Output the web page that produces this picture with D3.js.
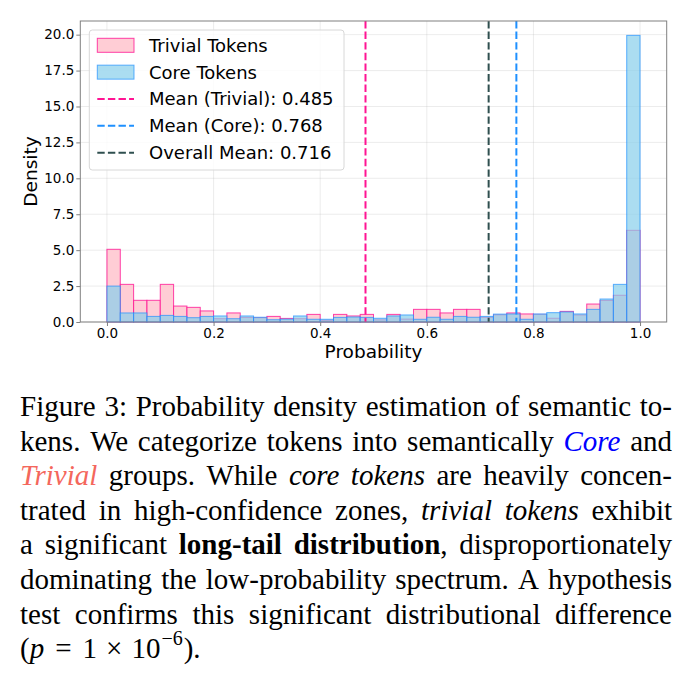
<!DOCTYPE html>
<html>
<head>
<meta charset="utf-8">
<script src="https://cdn.jsdelivr.net/npm/d3@7"></script>
<style>
  body { margin: 0; background: #fff; }
  svg { display: block; }
</style>
</head>
<body>
<svg width="693" height="697"></svg>
<script>
// densities per 0.025-wide bin (bins 0..39)
var trivialDensity = [5.06, 2.62, 1.51, 1.51, 2.62, 1.11, 1.02, 0.77, 0.23, 0.63,
                      0.32, 0.30, 0.39, 0.25, 0.23, 0.53, 0.12, 0.53, 0.42, 0.53,
                      0.15, 0.53, 0.20, 0.88, 0.88, 0.63, 0.88, 0.88, 0.32, 0.50,
                      0.63, 0.56, 0.53, 0.26, 0.74, 0.49, 1.25, 1.50, 1.86, 6.38],
    coreDensity = [2.50, 0.63, 0.63, 0.39, 0.46, 0.39, 0.30, 0.39, 0.42, 0.23,
                   0.42, 0.33, 0.16, 0.20, 0.42, 0.19, 0.19, 0.32, 0.35, 0.32,
                   0.26, 0.42, 0.49, 0.19, 0.33, 0.19, 0.39, 0.33, 0.39, 0.55,
                   0.56, 0.19, 0.56, 0.65, 0.70, 0.56, 0.88, 1.60, 2.62, 19.95];
var binWidth = 0.025;
var seriesNames = ["Trivial Tokens", "Core Tokens"];
var meanNames = ["Mean (Trivial)", "Mean (Core)", "Overall Mean"],
    meanValues = [0.485, 0.768, 0.716];
var xTicks = [0, 0.2, 0.4, 0.6, 0.8, 1.0],
    yTicks = [0, 2.5, 5, 7.5, 10, 12.5, 15, 17.5, 20];

// caption lines: [text, style]
var captionLines = [
  [["Figure 3: Probability density estimation of semantic to-", ""]],
  [["kens. We categorize tokens into semantically", ""], ["Core", "core"], ["and", ""]],
  [["Trivial", "trivial"], ["groups. While", ""], ["core tokens", "it"], ["are heavily concen-", ""]],
  [["trated in high-confidence zones,", ""], ["trivial tokens", "it"], ["exhibit", ""]],
  [["a significant", ""], ["long-tail distribution", "b"], [", disproportionately", "glue"]],
  [["dominating the low-probability spectrum. A hypothesis", ""]],
  [["test confirms this significant distributional difference", ""]]
];

var svg = d3.select("svg");
var font = "'DejaVu Sans', sans-serif";

var x = d3.scaleLinear().domain([-0.05, 1.05]).range([80.3, 666.7]);
var y = d3.scaleLinear().domain([0, 20.95]).range([322, 21]);

var pinkFill = "#ffc0cb", pinkEdge = "#ff1493",
    blueFill = "#87ceeb", blueEdge = "#1e90ff",
    meanColors = ["#ff1493", "#1e90ff", "#2f4f4f"];

// grid
var grid = svg.append("g");
grid.selectAll(".gx").data(xTicks).enter().append("line")
    .attr("x1", d => x(d)).attr("x2", d => x(d))
    .attr("y1", y.range()[1]).attr("y2", y.range()[0])
    .attr("stroke", "#b0b0b0").attr("stroke-opacity", 0.3).attr("stroke-width", 0.8);
grid.selectAll(".gy").data(yTicks).enter().append("line")
    .attr("y1", d => y(d)).attr("y2", d => y(d))
    .attr("x1", x.range()[0]).attr("x2", x.range()[1])
    .attr("stroke", "#b0b0b0").attr("stroke-opacity", 0.3).attr("stroke-width", 0.8);

// histogram bars
function drawBars(data, fill, edge, alpha) {
  svg.append("g").selectAll("rect").data(data).enter().append("rect")
      .attr("x", (d, i) => x(i * binWidth))
      .attr("width", (d, i) => x((i + 1) * binWidth) - x(i * binWidth))
      .attr("y", d => y(d))
      .attr("height", d => y(0) - y(d))
      .attr("fill", fill).attr("fill-opacity", alpha)
      .attr("stroke", edge).attr("stroke-opacity", alpha).attr("stroke-width", 1);
}
drawBars(trivialDensity, pinkFill, pinkEdge, 0.8);
drawBars(coreDensity, blueFill, blueEdge, 0.7);

// mean lines
svg.append("g").selectAll("line").data(meanValues).enter().append("line")
    .attr("x1", d => x(d)).attr("x2", d => x(d))
    .attr("y1", y.range()[1]).attr("y2", y.range()[0])
    .attr("stroke", (d, i) => meanColors[i])
    .attr("stroke-width", 2)
    .attr("stroke-dasharray", "7.4,3.2");

// axes
var xAxis = svg.append("g").attr("transform", "translate(0," + y(0) + ")")
    .call(d3.axisBottom(x).tickValues(xTicks).tickFormat(d3.format(".1f")).tickSize(4).tickPadding(2.5));
var yAxis = svg.append("g").attr("transform", "translate(" + x.range()[0] + ",0)")
    .call(d3.axisLeft(y).tickValues(yTicks).tickFormat(d3.format(".1f")).tickSize(4).tickPadding(2));
[xAxis, yAxis].forEach(function(a) {
  a.select(".domain").remove();
  a.selectAll(".tick line").attr("stroke", "#808080");
  a.selectAll(".tick text").attr("fill", "#000").style("font-family", font).style("font-size", "13.5px");
});

// frame
svg.append("rect")
    .attr("x", x.range()[0]).attr("y", y.range()[1])
    .attr("width", x.range()[1] - x.range()[0]).attr("height", y.range()[0] - y.range()[1])
    .attr("fill", "none").attr("stroke", "#808080").attr("stroke-width", 1);

// axis labels
svg.append("text").attr("x", (x.range()[0] + x.range()[1]) / 2).attr("y", 357.5)
    .attr("text-anchor", "middle").style("font-family", font).style("font-size", "18.5px")
    .text("Probability");
svg.append("text").attr("transform", "translate(36.5," + (y.range()[0] + y.range()[1]) / 2 + ") rotate(-90)")
    .attr("text-anchor", "middle").style("font-family", font).style("font-size", "18.5px")
    .text("Density");

// legend
var legend = svg.append("g");
legend.append("rect").attr("x", 89.3).attr("y", 30).attr("width", 254.7).attr("height", 140)
    .attr("rx", 3).attr("fill", "#fff").attr("fill-opacity", 0.8)
    .attr("stroke", "#d8d8d8").attr("stroke-width", 1);
var rowY = d => 45.3 + d * 26.85;
var fills = [[pinkFill, pinkEdge, 0.8], [blueFill, blueEdge, 0.7]];
seriesNames.forEach(function(name, i) {
  legend.append("rect").attr("x", 97.3).attr("y", rowY(i) - 7).attr("width", 36.7).attr("height", 14)
      .attr("fill", fills[i][0]).attr("fill-opacity", fills[i][2])
      .attr("stroke", fills[i][1]).attr("stroke-opacity", fills[i][2]);
  legend.append("text").attr("x", 149).attr("y", rowY(i)).attr("dy", "0.36em")
      .style("font-family", font).style("font-size", "18px").text(name);
});
meanNames.forEach(function(name, j) {
  var i = j + 2;
  legend.append("line").attr("x1", 97.3).attr("x2", 134).attr("y1", rowY(i)).attr("y2", rowY(i))
      .attr("stroke", meanColors[j]).attr("stroke-width", 2).attr("stroke-dasharray", "7.4,3.2");
  legend.append("text").attr("x", 149).attr("y", rowY(i)).attr("dy", "0.36em")
      .style("font-family", font).style("font-size", "18px")
      .text(name + ": " + d3.format(".3f")(meanValues[j]));
});

// caption (justified)
var serif = "'Liberation Serif', 'Times New Roman', serif";
var capLeft = 20, capRight = 672, capTop = 416, capStep = 34.6, capSize = 29;
var cap = svg.append("g").style("font-family", serif).style("font-size", capSize + "px");
function styleWord(t, s) {
  if (s === "core") t.style("font-style", "italic").attr("fill", "#0000ff");
  else if (s === "trivial") t.style("font-style", "italic").attr("fill", "#f4675c");
  else if (s === "it") t.style("font-style", "italic");
  else if (s === "b") t.style("font-weight", "bold");
}
captionLines.forEach(function(line, li) {
  var words = [];
  line.forEach(function(seg) {
    if (seg[1] === "glue") {
      var parts = seg[0].split(" ");
      words[words.length - 1].glue = parts[0];
      parts.slice(1).forEach(w => words.push({ text: w, style: "" }));
    } else {
      seg[0].split(" ").forEach(w => words.push({ text: w, style: seg[1] }));
    }
  });
  var by = capTop + li * capStep;
  var nodes = words.map(function(w) {
    var t = cap.append("text").attr("y", by);
    var a = t.append("tspan").text(w.text);
    styleWord(a, w.style);
    if (w.glue) t.append("tspan").text(w.glue);
    return t;
  });
  var widths = nodes.map(n => n.node().getComputedTextLength());
  var total = d3.sum(widths);
  var gap = (capRight - capLeft - total) / (nodes.length - 1);
  var cx = capLeft;
  nodes.forEach(function(n, i) { n.attr("x", cx); cx += widths[i] + gap; });
});
// last line with math
var last = cap.append("text").attr("x", capLeft).attr("y", capTop + captionLines.length * capStep);
last.append("tspan").text("(");
last.append("tspan").style("font-style", "italic").text("p");
last.append("tspan").attr("dx", 11).text("=");
last.append("tspan").attr("dx", 11).text("1");
last.append("tspan").attr("dx", 9).text("\u00d7");
last.append("tspan").attr("dx", 9).text("10");
last.append("tspan").attr("dy", -13).attr("dx", 1).style("font-size", "20px").text("\u22126");
last.append("tspan").attr("dy", 13).attr("dx", 1).text(").");
</script>
</body>
</html>
